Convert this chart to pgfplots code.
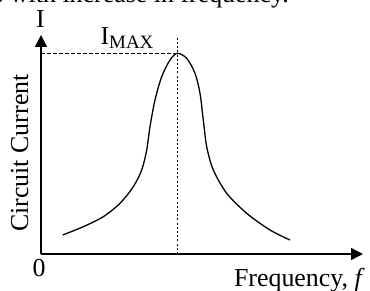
\documentclass[border=0pt]{standalone}
\usepackage{pgfplots}
\pgfplotsset{compat=1.18}
\usepackage{fontspec}
\setmainfont{Liberation Serif}
\usetikzlibrary{arrows.meta}
\pgfplotstableread{
x y
21.7 19
42.3 27.3
62.3 37.3
79 50.7
92.3 67.3
100.7 84
105.7 104
109 127.3
114 154
120.7 177.3
129 194
136.3 200.7
145.7 195.7
154 180.7
159 160.7
162.3 134
165.7 107.3
172.3 84
185.7 60.7
205.7 40.7
229 24
249 14
}\curve
\begin{document}
\begin{tikzpicture}
\useasboundingbox (0,0) rectangle (370bp,291bp);
\begin{axis}[
  at={(41bp,37bp)}, anchor=south west,
  x=1bp, y=1bp,
  xmin=0, xmax=322, ymin=0, ymax=219,
  enlargelimits=false,
  axis lines=left,
  axis line style={line width=1.5bp, -{Triangle[length=12bp,width=12bp]}},
  ticks=none,
  clip=false,
]
\addplot[line width=1.3bp, smooth, tension=0.5, mark=none] table[x=x,y=y] {\curve};
\addplot[line width=1.2bp, dash pattern=on 3.5bp off 2.5bp, mark=none] coordinates {(0,200.7) (136.3,200.7)};
\addplot[line width=1.5bp, dash pattern=on 2bp off 2.2bp, mark=none] coordinates {(136.3,0) (136.3,216)};
\end{axis}
\fontsize{26}{30}\selectfont
\node[anchor=base east, inner sep=0pt] at (289bp,288bp) {Current decreases with increase in frequency.};
\node[anchor=base, inner sep=0pt] at (40.5bp,263bp) {I};
\node[anchor=base, inner sep=0pt] at (127bp,246bp) {I\raisebox{-4bp}{\fontsize{19}{22}\selectfont MAX}};
\node[anchor=base, inner sep=0pt] at (39bp,15bp) {0};
\node[anchor=base east, inner sep=0pt] at (365bp,5bp) {Frequency, \textit{f}};
\node[anchor=base, inner sep=0pt, rotate=90] at (28bp,138bp) {Circuit Current};
\end{tikzpicture}
\end{document}
